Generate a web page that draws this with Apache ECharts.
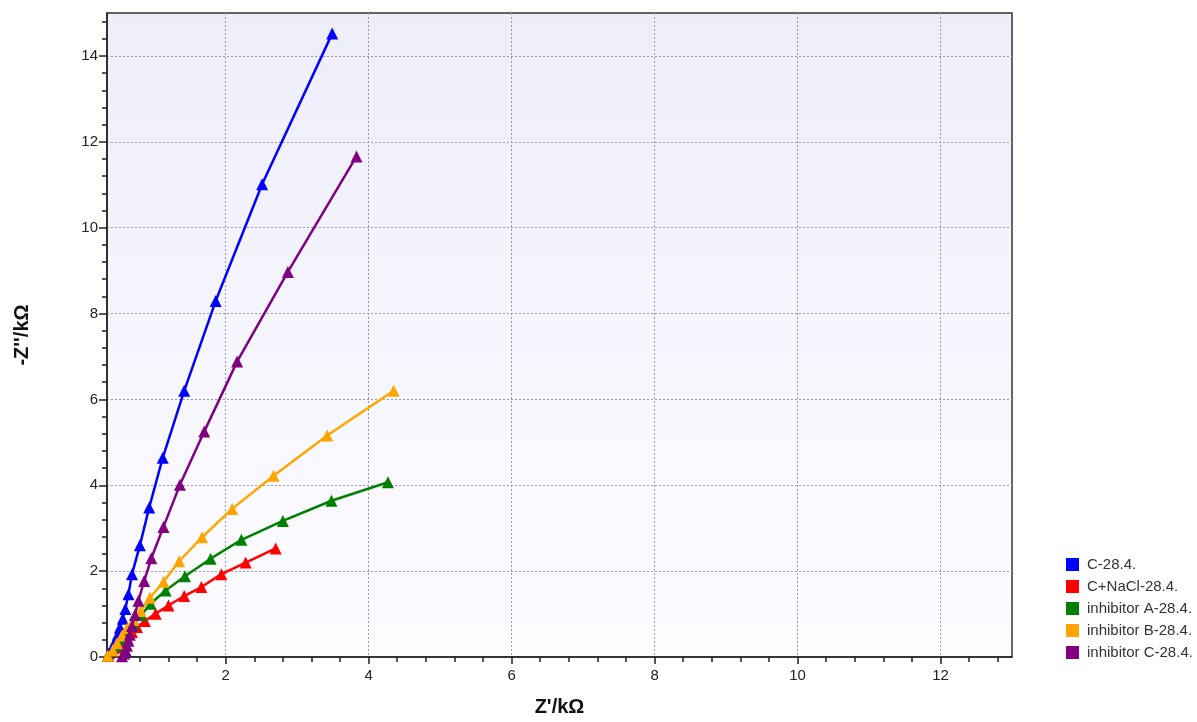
<!DOCTYPE html>
<html>
<head>
<meta charset="utf-8">
<script src="https://cdn.jsdelivr.net/npm/echarts@6/dist/echarts.min.js"></script>
<style>
html,body{margin:0;padding:0;background:#fff;}
#chart{width:1197px;height:722px;}
</style>
</head>
<body>
<div id="chart"></div>
<script>
// ---- data ----
const seriesNames = ['C-28.4.', 'C+NaCl-28.4.', 'inhibitor A-28.4.', 'inhibitor B-28.4.', 'inhibitor C-28.4.'];
const seriesColors = ['#0000ff', '#ff0000', '#008000', '#ffa500', '#800080'];

const cData = [[0.37,0.10],[0.42,0.21],[0.456,0.37],[0.49,0.52],[0.52,0.69],[0.56,0.89],[0.596,1.12],[0.64,1.46],[0.69,1.93],[0.80,2.60],[0.93,3.48],[1.12,4.64],[1.42,6.20],[1.86,8.29],[2.51,11.01],[3.49,14.52]];
const cNaClData = [[0.36,0.03],[0.42,0.12],[0.48,0.22],[0.55,0.34],[0.62,0.46],[0.69,0.58],[0.76,0.70],[0.87,0.84],[1.02,1.01],[1.20,1.20],[1.42,1.42],[1.66,1.63],[1.94,1.93],[2.28,2.20],[2.70,2.53]];
const inhAData = [[0.35,0.03],[0.42,0.14],[0.48,0.27],[0.55,0.42],[0.62,0.58],[0.71,0.76],[0.82,0.98],[0.95,1.24],[1.16,1.55],[1.43,1.88],[1.79,2.29],[2.22,2.73],[2.80,3.17],[3.48,3.64],[4.27,4.07]];
const inhBData = [[0.35,0.03],[0.42,0.16],[0.48,0.32],[0.55,0.50],[0.62,0.67],[0.71,0.86],[0.81,1.07],[0.94,1.38],[1.13,1.75],[1.35,2.23],[1.67,2.79],[2.09,3.45],[2.67,4.22],[3.42,5.16],[4.35,6.20]];
const inhCData = [[0.55,0.02],[0.58,0.08],[0.60,0.16],[0.62,0.26],[0.64,0.38],[0.66,0.52],[0.69,0.72],[0.73,0.98],[0.78,1.31],[0.86,1.77],[0.96,2.30],[1.13,3.03],[1.36,4.01],[1.70,5.25],[2.16,6.88],[2.87,8.97],[3.83,11.66]];

const xMajorTicks = [2, 4, 6, 8, 10, 12];
const yMajorTicks = [0, 2, 4, 6, 8, 10, 12, 14];
const xRange = [0.34, 13];
const yRange = [0, 15];
const minorStep = 0.4;

// ---- build ----
function minorTicks(lo, hi, step, majors) {
  const out = [];
  for (let i = Math.ceil(lo / step - 1e-9); i * step <= hi + 1e-9; i++) {
    const v = +(i * step).toFixed(4);
    if (!majors.some(m => Math.abs(m - v) < 1e-6)) out.push(v);
  }
  return out;
}
const xMinor = minorTicks(xRange[0], xRange[1], minorStep, xMajorTicks);
const yMinor = minorTicks(yRange[0], yRange[1], minorStep, yMajorTicks);

const font = 'Liberation Sans';
const allData = [cData, cNaClData, inhAData, inhBData, inhCData];

const chart = echarts.init(document.getElementById('chart'));
chart.setOption({
  animation: false,
  backgroundColor: '#ffffff',
  color: seriesColors,
  grid: {
    left: 107, top: 13, right: 185, bottom: 60,
    show: true,
    borderColor: '#333',
    borderWidth: 1.5,
    backgroundColor: new echarts.graphic.LinearGradient(0, 0, 0, 1, [
      {offset: 0, color: '#eeeefb'},
      {offset: 1, color: '#fcfcff'}
    ])
  },
  legend: {
    orient: 'vertical',
    left: 1061,
    top: 552,
    icon: 'rect',
    itemWidth: 13,
    itemHeight: 13,
    itemGap: 7,
    textStyle: {fontFamily: font, fontSize: 15, color: '#333', padding: [0, 0, 0, 3]},
    data: seriesNames
  },
  xAxis: [{
    type: 'value',
    min: xRange[0], max: xRange[1],
    position: 'bottom',
    name: "Z'/kΩ",
    nameLocation: 'middle',
    nameGap: 40,
    nameTextStyle: {fontFamily: font, fontSize: 20, fontWeight: 'bold', color: '#111'},
    axisLine: {lineStyle: {color: '#222', width: 1.5}},
    axisTick: {show: true, length: 7, lineStyle: {color: '#222', width: 1.5}, customValues: xMajorTicks},
    axisLabel: {fontFamily: font, fontSize: 15, color: '#222', margin: 11, customValues: xMajorTicks},
    splitLine: {show: true, lineStyle: {color: '#999', type: [2, 2], width: 1}}
  }, {
    type: 'value',
    min: xRange[0], max: xRange[1],
    position: 'bottom',
    axisLine: {show: false},
    axisTick: {show: true, length: 5, lineStyle: {color: '#222', width: 1.5}, customValues: xMinor},
    axisLabel: {show: false},
    splitLine: {show: false}
  }],
  yAxis: [{
    type: 'value',
    min: yRange[0], max: yRange[1],
    position: 'left',
    name: "-Z''/kΩ",
    nameLocation: 'middle',
    nameGap: 75,
    nameRotate: 90,
    nameTextStyle: {fontFamily: font, fontSize: 20, fontWeight: 'bold', color: '#111'},
    axisLine: {show: true, lineStyle: {color: '#222', width: 1.5}},
    axisTick: {show: true, length: 8, lineStyle: {color: '#222', width: 1.5}, customValues: yMajorTicks},
    axisLabel: {fontFamily: font, fontSize: 15, color: '#222', margin: 9, customValues: yMajorTicks},
    splitLine: {show: true, lineStyle: {color: '#999', type: [2, 2], width: 1}}
  }, {
    type: 'value',
    min: yRange[0], max: yRange[1],
    position: 'left',
    axisLine: {show: false},
    axisTick: {show: true, length: 5, lineStyle: {color: '#222', width: 1.5}, customValues: yMinor},
    axisLabel: {show: false},
    splitLine: {show: false}
  }],
  series: seriesNames.map((name, i) => ({
    name: name,
    type: 'line',
    xAxisIndex: 0,
    yAxisIndex: 0,
    data: allData[i],
    symbol: 'triangle',
    symbolSize: 12,
    showAllSymbol: true,
    lineStyle: {width: 2.5, color: seriesColors[i]},
    itemStyle: {color: seriesColors[i]},
    z: 2 + i
  }))
});
</script>
</body>
</html>
